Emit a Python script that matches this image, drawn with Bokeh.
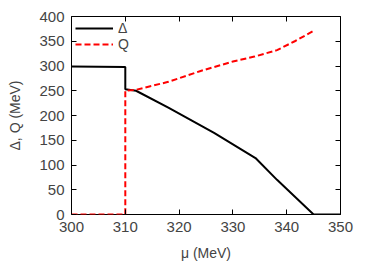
from bokeh.plotting import figure
from bokeh.models import LinearAxis, Range1d, Legend, LegendItem, FixedTicker
from bokeh.embed import file_html
from bokeh.resources import INLINE

# Data
mu_delta = [300, 310, 310, 312, 318, 326.5, 334.2, 338.2, 345, 350]
delta = [299, 298, 253, 250, 216, 165, 114, 70, 0, 0]

mu_q = [300, 310, 310, 312, 318, 324, 330, 334, 338.2, 341.5, 345]
q = [0, 0, 250, 252, 268, 290, 309, 319, 332, 350, 371]

x_ticks = [300, 310, 320, 330, 340, 350]
y_ticks = [0, 50, 100, 150, 200, 250, 300, 350, 400]

FONT = "Liberation Sans"

p = figure(frame_width=269, frame_height=198, output_backend="svg", toolbar_location=None,
           x_range=Range1d(300, 350), y_range=Range1d(0, 400),
           min_border_left=71, min_border_right=20, min_border_top=16, min_border_bottom=44)
p.xgrid.visible = False
p.ygrid.visible = False
p.outline_line_color = "black"
p.outline_line_width = 1
p.background_fill_color = "white"
p.border_fill_color = "white"

p.xaxis.axis_label = "μ (MeV)"
p.yaxis.axis_label = "Δ, Q (MeV)"
for ax in [p.xaxis[0], p.yaxis[0]]:
    ax.major_label_text_font = FONT
    ax.major_label_text_font_size = "15px"
    ax.axis_label_text_font = FONT
    ax.axis_label_text_font_size = "14px"
    ax.axis_label_text_font_style = "normal"
    ax.major_tick_in = 5
    ax.major_tick_out = 0
    ax.minor_tick_line_color = None
    ax.axis_line_color = None
    ax.major_label_standoff = 7
p.xaxis[0].ticker = FixedTicker(ticks=x_ticks)
p.yaxis[0].ticker = FixedTicker(ticks=y_ticks)
p.xaxis[0].axis_label_standoff = 10
p.yaxis[0].axis_label_standoff = 13

top = LinearAxis(ticker=FixedTicker(ticks=x_ticks),
                 major_label_overrides={t: "" for t in x_ticks},
                 major_tick_in=5, major_tick_out=0, minor_tick_line_color=None,
                 axis_line_color=None, major_label_standoff=0)
right = LinearAxis(ticker=FixedTicker(ticks=y_ticks),
                   major_label_overrides={t: "" for t in y_ticks},
                   major_tick_in=5, major_tick_out=0, minor_tick_line_color=None,
                   axis_line_color=None, major_label_standoff=0)
p.add_layout(top, "above")
p.add_layout(right, "right")

r_d = p.line(mu_delta, delta, line_color="black", line_width=2)
r_q = p.line(mu_q, q, line_color="red", line_width=2, line_dash="6 3")

legend = Legend(items=[LegendItem(label="Δ", renderers=[r_d]),
                       LegendItem(label="Q", renderers=[r_q])],
                location="top_left")
legend.background_fill_alpha = 0
legend.border_line_color = None
legend.label_text_font = FONT
legend.label_text_font_size = "14px"
legend.glyph_width = 38
legend.glyph_height = 14
legend.spacing = 0
legend.padding = 2
legend.margin = 4
legend.label_height = 14
p.add_layout(legend)

open("out.html", "w").write(file_html(p, INLINE))
